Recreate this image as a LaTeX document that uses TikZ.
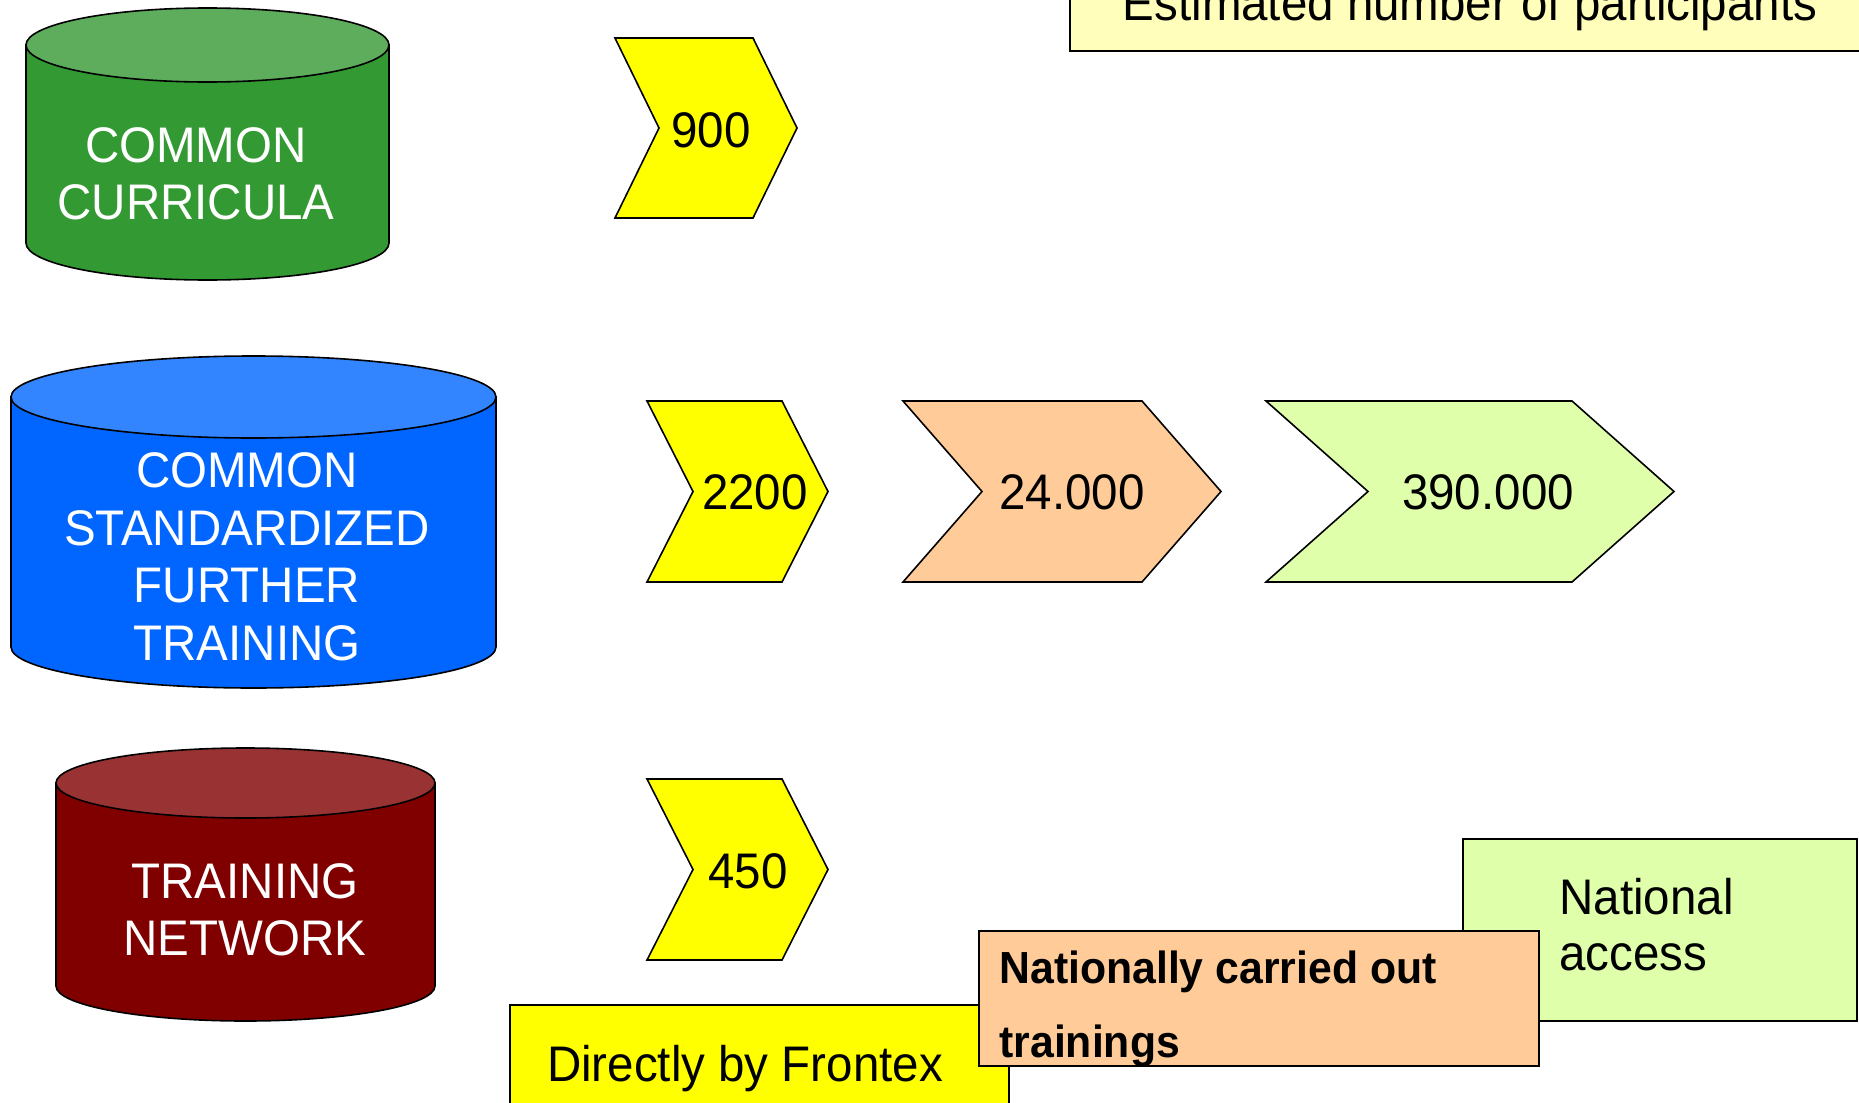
\documentclass[tikz,border=0pt]{standalone}
\usepackage{fontspec}
\setmainfont[FakeStretch=0.95]{Liberation Sans}
\definecolor{cgreen}{RGB}{51,153,51}
\definecolor{cgreentop}{RGB}{93,173,93}
\definecolor{cblue}{RGB}{0,102,255}
\definecolor{cbluetop}{RGB}{51,133,255}
\definecolor{cred}{RGB}{128,0,0}
\definecolor{credtop}{RGB}{153,51,51}
\definecolor{cyellow}{RGB}{255,255,0}
\definecolor{cpeach}{RGB}{255,204,153}
\definecolor{clgreen}{RGB}{224,255,170}
\definecolor{clyellow}{RGB}{255,255,187}
\newcommand\mycyl[7]{%
  \pgfmathsetmacro\mycx{(#1+#2)/2}\pgfmathsetmacro\myrx{(#2-#1)/2}%
  \filldraw[fill=#6, outl] (#1,-#3) -- (#1,-#4) arc[start angle=180,end angle=360,x radius=\myrx,y radius=#5] -- (#2,-#3) -- cycle;
  \filldraw[fill=#7, outl] (\mycx,-#3) ellipse[x radius=\myrx, y radius=#5];
}
% left, topright, tip, top, bottom, colour
\newcommand\mychev[6]{%
  \pgfmathsetmacro\mymid{(#4+#5)/2}\pgfmathsetmacro\mynotch{#1+#3-#2}%
  \filldraw[fill=#6, outl] (#1,-#4) -- (#2,-#4) -- (#3,-\mymid) -- (#2,-#5) -- (#1,-#5) -- (\mynotch,-\mymid) -- cycle;
}
\begin{document}
\begin{tikzpicture}[x=0.5pt,y=0.5pt,
  outl/.style={draw=black, line width=0.8pt},
  cyltxt/.style={text=white, font=\fontsize{25}{28.75}\selectfont, align=center, inner sep=0pt},
  numtxt/.style={text=black, font=\fontsize{25}{28.75}\selectfont, inner sep=0pt},
  boxtxt/.style={text=black, font=\fontsize{25}{28.75}\selectfont, inner sep=0pt, anchor=base west},
  boldtxt/.style={text=black, font=\fontsize{22.5}{26}\selectfont\bfseries, inner sep=0pt, anchor=base west}]
\useasboundingbox (0,0) rectangle (1859,-1103);
\clip (0,0) rectangle (1859,-1103);

% cylinders
\mycyl{26}{389}{45}{243}{37}{cgreen}{cgreentop}
\node[cyltxt] (cc) at (196,-174) {COMMON\\CURRICULA};
\mycyl{11}{496}{397}{647}{41}{cblue}{cbluetop}
\node[cyltxt] (csft) at (247,-557) {COMMON\\STANDARDIZED\\FURTHER\\TRAINING};
\mycyl{56}{435}{783}{986}{35}{cred}{credtop}
\node[cyltxt] (tn) at (245,-910) {TRAINING\\NETWORK};

% chevrons
\mychev{615}{753}{797}{38}{218}{cyellow}
\node[numtxt] (n900) at (711,-130) {900};
\mychev{647}{782}{828}{401}{582}{cyellow}
\node[numtxt] (n2200) at (755,-492) {2200};
\mychev{903}{1142}{1221}{401}{582}{cpeach}
\node[numtxt] (n24000) at (1072,-492) {24.000};
\mychev{1266}{1572}{1674}{401}{582}{clgreen}
\node[numtxt] (n390000) at (1488,-492) {390.000};
\mychev{647}{782}{828}{779}{960}{cyellow}
\node[numtxt] (n450) at (748,-871) {450};

% legend / title boxes
\filldraw[fill=clyellow, outl] (1070,60) rectangle (1900,-51);
\node[text=black, font=\fontsize{25}{28.75}\selectfont, inner sep=0pt, anchor=base] (est) at (1470,-20) {Estimated number of participants};

\filldraw[fill=clgreen, outl] (1463,-839) rectangle (1857,-1021);
\node[boxtxt] (na1) at (1559,-914) {National};
\node[boxtxt] (na2) at (1559,-970) {access};

\filldraw[fill=cyellow, outl] (510,-1005) rectangle (1009,-1150);
\node[text=black, font=\fontsize{25}{28.75}\selectfont, inner sep=0pt, anchor=base] (dbf) at (745,-1081) {Directly by Frontex};

\filldraw[fill=cpeach, outl] (979,-931) rectangle (1539,-1066);
\node[boldtxt] (nc1) at (999,-983) {Nationally carried out};
\node[boldtxt] (nc2) at (999,-1057) {trainings};
\end{tikzpicture}
\end{document}
